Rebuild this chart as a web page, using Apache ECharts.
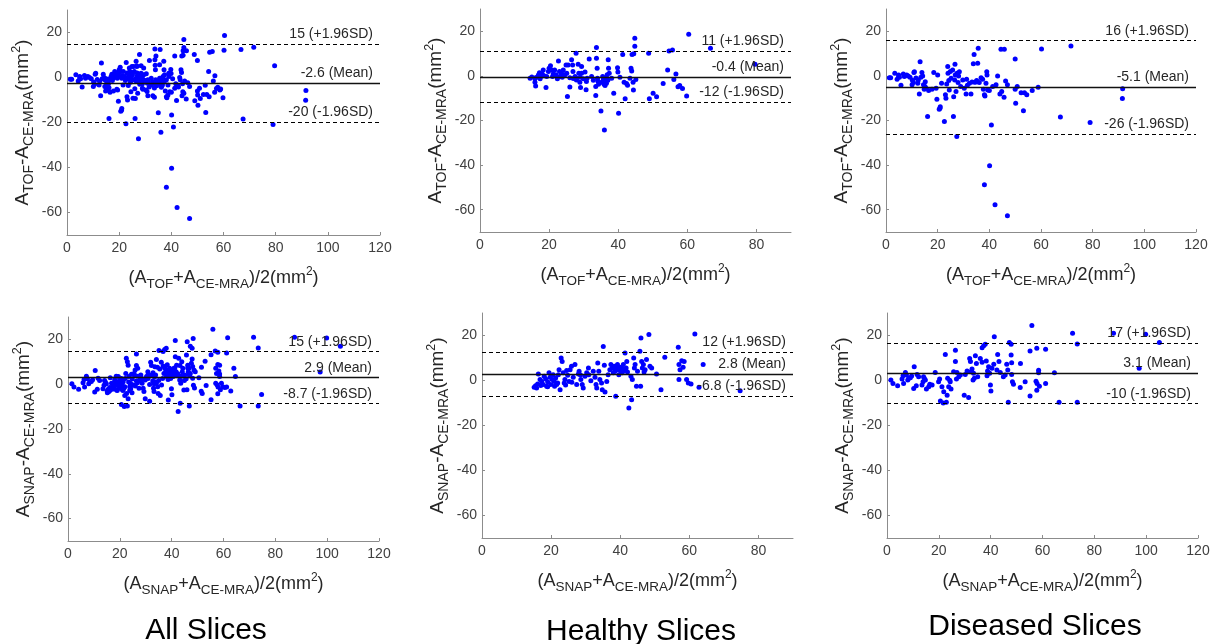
<!DOCTYPE html>
<html><head><meta charset="utf-8">
<script src="https://cdn.jsdelivr.net/npm/echarts@6/dist/echarts.min.js"></script>
<style>html,body{margin:0;padding:0;background:#fff}#c{width:1214px;height:644px}</style>
</head><body><div id="c"></div>
<script>
// ---- data: [mean of the two areas, difference] ----
const healthyTOF = [[14.5,-1.0],[15.9,-1.3],[15.9,-2.8],[16.1,-4.5],[16.2,-0.7],[16.9,0.4],[17.2,1.4],[17.6,-0.3],[17.4,-1.3],[18.3,2.7],[18.5,0.1],[19.1,-5.2],[19.3,-0.3],[19.8,2.0],[20.0,3.4],[20.4,4.6],[20.7,2.7],[21.2,0.8],[21.6,2.7],[22.0,0.5],[22.4,-1.3],[22.7,6.7],[23.0,2.0],[23.1,-0.3],[23.6,1.2],[24.1,2.7],[24.6,0.5],[24.9,4.9],[25.1,1.2],[25.3,-9.2],[25.5,4.9],[26.0,-5.0],[26.5,7.2],[26.8,4.9],[26.9,2.0],[27.5,-0.3],[27.8,10.2],[27.9,-1.8],[28.4,5.2],[28.6,1.2],[28.9,-2.8],[29.1,-5.2],[29.4,4.2],[29.4,1.2],[29.9,-1.3],[30.4,1.7],[30.7,-6.2],[30.8,-2.5],[31.6,7.6],[32.3,-0.3],[33.5,-4.7],[33.5,-8.8],[33.7,12.7],[33.7,7.9],[33.9,3.4],[34.0,-1.0],[34.1,-2.3],[34.3,-3.7],[35.0,-15.7],[35.5,-0.3],[35.7,-1.6],[35.2,-2.8],[35.9,-3.8],[36.0,-24.3],[36.1,-2.5],[36.4,-1.0],[36.6,-3.3],[36.8,0.5],[37.1,7.2],[37.2,3.4],[37.4,1.2],[38.1,-1.0],[38.7,-7.8],[39.8,3.6],[39.9,1.8],[40.1,-16.7],[40.5,-0.6],[41.3,9.6],[41.7,-2.8],[42.0,-10.2],[42.4,-3.4],[42.7,-4.2],[43.4,-1.0],[43.7,3.4],[43.9,2.2],[44.0,9.6],[44.3,-2.8],[44.4,-6.3],[44.5,9.9],[44.8,16.9],[44.8,13.3],[45.1,-1.6],[48.8,10.2],[49.0,-10.3],[50.1,-7.8],[51.1,-9.3],[53.0,-3.4],[54.3,2.7],[54.7,11.2],[55.7,11.6],[56.1,-1.6],[56.7,0.8],[57.3,-4.9],[57.8,-4.3],[58.6,-5.6],[59.8,-9.0],[60.4,18.7],[66.7,12.4],[79.6,5.2],[21.0,-0.3],[23.8,-0.6],[26.0,-0.8],[27.0,-1.2],[28.0,-1.0],[29.0,-0.6],[31.0,-1.0],[32.8,-2.0],[36.2,-4.3],[37.0,-2.0],[15.0,-0.5],[18.0,0.8]];

const diseasedTOF = [[1.3,-0.8],[1.8,-0.8],[3.4,1.2],[4.3,-1.5],[4.9,-0.3],[4.9,0.4],[5.8,-4.2],[6.7,0.9],[7.1,-0.3],[8.0,0.4],[9.3,-0.6],[10.1,-4.0],[10.6,-3.0],[10.8,1.5],[11.6,-0.9],[12.3,-3.3],[12.5,-1.8],[12.9,-8.1],[13.2,6.4],[13.5,-0.6],[13.9,1.5],[14.2,0.0],[14.5,-4.0],[14.8,-6.0],[15.2,-2.6],[15.5,-5.5],[16.1,-18.2],[16.5,-6.6],[17.8,-6.0],[18.5,1.5],[19.4,-5.5],[19.7,-10.5],[20.0,0.4],[20.6,-15.0],[21.0,-13.8],[21.5,-3.3],[22.6,-20.5],[23.0,-8.5],[23.2,-10.0],[23.5,-3.6],[23.9,4.2],[24.0,1.2],[24.3,-2.1],[24.5,-6.3],[24.9,2.0],[25.2,-1.1],[25.8,2.7],[26.1,-18.2],[26.2,-9.3],[26.6,-1.8],[26.7,5.2],[26.8,0.4],[27.1,-7.0],[27.4,-27.2],[27.5,1.2],[27.9,-3.0],[28.1,0.0],[28.4,1.9],[28.9,-4.8],[29.7,-1.8],[30.3,-5.5],[31.0,-8.1],[31.2,-1.5],[31.5,-4.2],[32.3,-3.3],[32.9,-8.1],[33.3,-2.7],[33.8,5.4],[34.1,9.6],[34.3,-2.9],[34.8,-2.7],[35.1,-2.1],[35.5,5.7],[35.7,12.4],[36.1,-3.0],[36.8,-0.8],[37.4,-1.5],[37.7,-6.0],[38.1,-8.5],[38.3,-9.0],[38.7,-3.3],[39.0,1.9],[39.1,0.4],[39.4,-6.3],[40.0,-6.6],[40.8,-22.0],[41.3,-4.8],[42.6,-4.0],[43.2,0.0],[44.1,-8.1],[44.5,11.9],[44.8,-7.0],[45.8,11.9],[45.7,-9.6],[46.3,-2.3],[47.0,-4.0],[50.0,7.6],[50.0,-6.0],[50.2,-12.3],[50.8,-4.8],[52.3,-7.5],[53.2,-15.6],[53.6,-7.5],[54.5,-8.5],[56.6,-6.6],[58.9,-5.1],[60.2,12.1],[67.5,-18.4],[71.6,13.4],[79.0,-20.9],[91.6,-5.8],[91.5,-10.1],[40.1,-40.3],[38.1,-48.8],[42.2,-57.8],[47.0,-62.7],[10.2,-2.0],[11.0,1.9],[8.6,0.0],[5.2,-0.6],[15.1,-4.8],[20.9,-14.5]];

const healthySNAP = [[15.1,-3.0],[15.5,-2.3],[16.1,-1.5],[16.3,2.9],[15.8,-3.3],[16.8,0.4],[17.3,-0.4],[17.7,-1.8],[18.0,1.9],[18.4,0.8],[18.7,-2.6],[19.0,-0.6],[19.4,3.4],[19.7,1.4],[19.9,-1.8],[20.3,0.4],[20.6,2.6],[20.9,-0.4],[21.3,1.1],[21.6,-1.8],[21.9,-1.1],[22.1,2.6],[22.3,4.8],[22.6,-4.1],[22.9,10.0],[23.2,8.5],[23.5,3.4],[23.8,-1.1],[24.0,0.4],[24.5,4.4],[24.8,2.3],[25.2,-0.4],[25.5,4.8],[25.9,6.3],[26.4,1.4],[26.9,7.1],[27.4,-1.8],[27.9,2.9],[28.1,4.1],[28.6,0.4],[29.0,-1.8],[29.3,-3.3],[29.8,1.9],[30.3,3.4],[30.8,5.6],[30.9,2.6],[31.5,-0.1],[32.2,4.1],[32.7,1.4],[33.0,-1.8],[33.2,-3.3],[33.5,7.8],[33.8,4.1],[34.1,0.4],[34.6,-1.1],[34.8,-4.1],[35.1,15.1],[35.4,6.8],[35.6,-5.1],[36.1,-0.4],[36.5,2.6],[37.0,4.8],[37.3,7.1],[37.7,5.6],[38.0,3.4],[38.3,6.3],[38.5,4.1],[38.7,-7.0],[38.9,5.6],[39.2,7.1],[39.4,4.8],[39.6,2.6],[39.9,5.9],[40.2,4.1],[40.4,5.6],[40.6,3.4],[40.9,7.1],[41.2,4.4],[41.4,12.2],[41.7,5.6],[41.9,8.5],[42.1,3.8],[42.5,-12.2],[43.1,1.9],[43.3,-8.5],[43.5,0.4],[43.9,10.0],[44.1,5.6],[44.3,7.1],[44.7,-2.6],[45.0,4.1],[45.7,13.0],[46.0,18.9],[46.2,8.5],[46.4,5.6],[46.7,7.1],[46.9,3.8],[47.2,4.8],[47.6,9.3],[48.3,20.4],[48.6,6.3],[49.1,5.6],[50.5,2.9],[51.8,-4.1],[52.9,10.3],[56.8,14.8],[57.0,7.1],[57.0,0.4],[57.3,4.8],[57.8,8.8],[58.2,5.9],[58.5,8.5],[59.2,0.4],[59.7,-1.1],[60.5,-1.5],[61.6,20.7],[62.8,-3.0],[64.0,7.1],[74.7,-4.6],[45.9,-2.5],[17.0,-2.2],[19.0,-2.8],[21.0,-2.5],[24.2,-2.0],[26.0,-0.8],[28.5,2.5]];

const diseasedSNAP = [[1.5,0.2],[2.3,-1.3],[4.1,-2.3],[5.8,0.7],[6.2,2.1],[6.4,-1.3],[7.1,3.6],[7.5,2.4],[8.0,0.2],[8.4,1.0],[9.0,1.2],[9.5,2.0],[10.3,-3.5],[10.5,6.1],[11.3,-2.3],[11.6,2.7],[12.2,1.7],[13.5,-2.0],[13.9,-0.5],[14.1,1.7],[14.4,1.0],[14.8,0.2],[15.2,-3.8],[16.1,-2.8],[16.5,-1.7],[17.4,-2.0],[18.6,3.6],[19.9,-0.5],[20.3,0.7],[20.6,-9.1],[21.2,-2.8],[21.9,-5.0],[22.5,11.6],[22.9,-9.7],[21.7,-10.0],[23.2,-6.5],[23.4,1.0],[23.8,-2.8],[24.2,0.1],[24.4,-0.5],[24.7,-3.8],[25.7,3.9],[26.4,8.4],[26.4,13.5],[26.8,0.7],[27.0,3.6],[27.7,1.7],[28.3,2.4],[29.8,-6.5],[30.2,2.7],[30.9,4.2],[31.5,-7.6],[31.9,9.8],[32.2,8.4],[32.4,3.9],[32.8,5.1],[33.2,0.2],[33.4,3.2],[33.7,1.0],[34.1,11.0],[34.5,7.6],[35.0,1.7],[36.0,9.8],[36.7,8.1],[36.7,14.6],[37.3,15.5],[37.9,16.1],[38.3,8.7],[38.6,2.1],[38.8,4.2],[39.2,6.1],[39.6,3.2],[39.9,-2.0],[40.1,-4.7],[40.5,5.4],[41.2,7.2],[41.4,19.5],[42.4,4.7],[42.7,11.6],[43.7,3.6],[43.2,8.4],[44.9,1.7],[45.6,2.4],[46.6,4.7],[46.2,7.2],[46.8,-9.7],[47.2,16.9],[47.9,16.1],[47.9,11.3],[48.1,7.9],[48.1,2.7],[48.4,-0.5],[48.8,-1.7],[51.5,7.6],[51.4,-3.1],[53.3,-0.6],[55.2,13.1],[55.2,-6.9],[55.9,24.5],[57.8,14.3],[58.5,4.6],[58.5,3.4],[57.5,-0.3],[57.8,-4.3],[58.8,-2.5],[57.9,-1.3],[61.2,13.9],[61.2,-1.3],[64.6,3.4],[66.4,-9.7],[71.6,21.0],[73.4,16.2],[73.4,-9.7],[87.4,21.0],[97.3,5.4],[99.8,20.6],[105.1,16.9]];

// all slices = healthy + diseased slices
const allTOF = healthyTOF.concat(diseasedTOF);
const allSNAP = healthySNAP.concat(diseasedSNAP);

const panelData = [allTOF, healthyTOF, diseasedTOF, allSNAP, healthySNAP, diseasedSNAP];
const meanValues  = [-2.6, -0.4, -5.1, 2.9, 2.8, 3.1];
const upperValues = [14.7, 10.9, 15.8, 14.5, 12.4, 16.5];
const lowerValues = [-19.9, -11.6, -26.0, -8.7, -6.8, -10.3];
const meanLabels  = ['-2.6 (Mean)', '-0.4 (Mean)', '-5.1 (Mean)', '2.9 (Mean)', '2.8 (Mean)', '3.1 (Mean)'];
const upperLabels = ['15 (+1.96SD)', '11 (+1.96SD)', '16 (+1.96SD)', '15 (+1.96SD)', '12 (+1.96SD)', '17 (+1.96SD)'];
const lowerLabels = ['-20 (-1.96SD)', '-12 (-1.96SD)', '-26 (-1.96SD)', '-8.7 (-1.96SD)', '-6.8 (-1.96SD)', '-10 (-1.96SD)'];
const xMaxValues = [120, 90, 120, 120, 90, 120];
const yTickValues = [-60, -40, -20, 0, 20];
const captions = ['All Slices', 'Healthy Slices', 'Diseased Slices'];
const methods = ['TOF', 'TOF', 'TOF', 'SNAP', 'SNAP', 'SNAP'];

// ---- layout ----
const FONT = '"Liberation Sans", Arial, Helvetica, sans-serif';
const grids = [
  {left: 67, top: 10, width: 313, height: 225},
  {left: 480, top: 9, width: 311, height: 223},
  {left: 886, top: 9, width: 310, height: 223},
  {left: 68, top: 317, width: 311, height: 224},
  {left: 482, top: 313, width: 311, height: 225},
  {left: 887, top: 313, width: 311, height: 225}
];
const captionPos = [[206, 631], [641, 632], [1035, 627]];

const richX = {
  sub: {fontSize: 13.5, fontFamily: FONT, color: '#262626', padding: [12, 0, 0, 0]},
  sup: {fontSize: 12, fontFamily: FONT, color: '#262626', padding: [0, 0, 13, 0]}
};
const richY = {
  sub: {fontSize: 14, fontFamily: FONT, color: '#262626', padding: [12, 0, 0, 0]},
  sup: {fontSize: 12.5, fontFamily: FONT, color: '#262626', padding: [0, 0, 13, 0]}
};
const axisGray = '#8c8c8c';

const xAxes = [], yAxes = [], series = [];
for (let i = 0; i < 6; i++) {
  const m = methods[i];
  xAxes.push({
    gridIndex: i, type: 'value', min: 0, max: xMaxValues[i], interval: 20,
    axisLine: {show: true, onZero: false, lineStyle: {color: axisGray, width: 1}},
    axisTick: {show: true, inside: true, length: 3, lineStyle: {color: axisGray}},
    axisLabel: {color: '#404040', fontSize: 14, fontFamily: FONT, margin: 6, showMaxLabel: xMaxValues[i] === 120},
    splitLine: {show: false},
    name: '(A{sub|' + m + '}+A{sub|CE-MRA})/2(mm{sup|2})',
    nameLocation: 'middle', nameGap: 30,
    nameTextStyle: {fontSize: 18, fontFamily: FONT, color: '#262626', rich: richX}
  });
  yAxes.push({
    gridIndex: i, type: 'value', min: -70, max: 30, interval: 10,
    axisLine: {show: true, onZero: false, lineStyle: {color: axisGray, width: 1}},
    axisTick: {show: true, inside: true, length: 3, lineStyle: {color: axisGray}, customValues: yTickValues},
    axisLabel: {color: '#404040', fontSize: 14, fontFamily: FONT, margin: 5, customValues: yTickValues},
    splitLine: {show: false},
    name: 'A{sub|' + m + '}-A{sub|CE-MRA}(mm{sup|2})',
    nameLocation: 'middle', nameGap: 31, nameRotate: 90,
    nameTextStyle: {fontSize: 19, fontFamily: FONT, color: '#262626', rich: richY}
  });
  const lbl = (txt) => ({
    show: true, position: 'insideEndTop', formatter: txt, distance: [7, 3],
    fontSize: 14, fontFamily: FONT, color: '#262626'
  });
  series.push({
    type: 'scatter', xAxisIndex: i, yAxisIndex: i,
    data: panelData[i], symbolSize: 5,
    itemStyle: {color: '#0000ff', opacity: 1},
    animation: false,
    markLine: {
      silent: true, symbol: 'none', animation: false,
      data: [
        {yAxis: upperValues[i], lineStyle: {color: '#000', type: [4, 3], width: 1.1}, label: lbl(upperLabels[i])},
        {yAxis: meanValues[i], lineStyle: {color: '#111', type: 'solid', width: 1.3}, label: lbl(meanLabels[i])},
        {yAxis: lowerValues[i], lineStyle: {color: '#000', type: [4, 3], width: 1.1}, label: lbl(lowerLabels[i])}
      ]
    }
  });
}

const graphic = captions.map((t, k) => ({
  type: 'text', x: captionPos[k][0], y: captionPos[k][1],
  style: {text: t, fontSize: 30, fontFamily: FONT, fill: '#000', align: 'center', verticalAlign: 'middle'}
}));

const chart = echarts.init(document.getElementById('c'), null, {renderer: 'canvas'});
chart.setOption({
  animation: false,
  backgroundColor: '#fff',
  grid: grids,
  xAxis: xAxes,
  yAxis: yAxes,
  series: series,
  graphic: graphic
});
</script>
</body></html>
